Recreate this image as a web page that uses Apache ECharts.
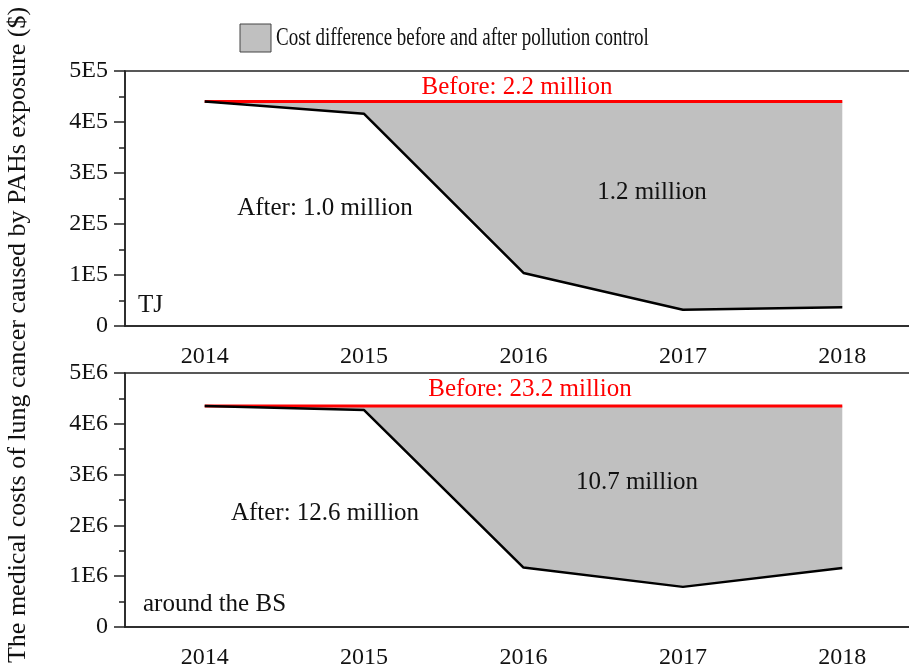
<!DOCTYPE html>
<html>
<head>
<meta charset="utf-8">
<script src="https://cdn.jsdelivr.net/npm/echarts@6/dist/echarts.min.js"></script>
<style>
  html, body { margin: 0; padding: 0; background: #fff; }
  #chart { width: 909px; height: 670px; }
</style>
</head>
<body>
<div id="chart"></div>
<script>
// Years on the horizontal axis
const years = ['2014', '2015', '2016', '2017', '2018'];

// TJ: medical costs per year ($)
const tjBefore = [440000, 440000, 440000, 440000, 440000];
const tjAfter = [440000, 416000, 104000, 32000, 37000];

// Around the BS: medical costs per year ($)
const bsBefore = [4350000, 4350000, 4350000, 4350000, 4350000];
const bsAfter = [4350000, 4270000, 1170000, 790000, 1160000];

// Tick labels of the two value axes
const tjTicks = ['0', '1E5', '2E5', '3E5', '4E5', '5E5'];
const bsTicks = ['0', '1E6', '2E6', '3E6', '4E6', '5E6'];

const FONT = '"Liberation Serif", "DejaVu Serif", serif';
const FILL = '#c0c0c0';

function diff(before, after) {
  return before.map((b, i) => b - after[i]);
}

function xAxisFor(gridIndex) {
  return {
    type: 'category',
    gridIndex: gridIndex,
    data: years,
    boundaryGap: true,
    axisLine: { lineStyle: { color: '#222', width: 1.5 } },
    axisTick: { alignWithLabel: true, length: 9, lineStyle: { color: '#222', width: 1.5 } },
    axisLabel: { color: '#111', fontFamily: FONT, fontSize: 24, margin: 19 },
    splitLine: { show: false }
  };
}

function yAxisFor(gridIndex, max, ticks) {
  return {
    type: 'value',
    gridIndex: gridIndex,
    min: 0,
    max: max,
    interval: max / 5,
    axisLine: { show: true, lineStyle: { color: '#222', width: 1.5 } },
    axisTick: { show: true, length: 11, lineStyle: { color: '#222', width: 1.5 } },
    minorTick: { show: true, splitNumber: 2, length: 6, lineStyle: { color: '#222', width: 1.5 } },
    axisLabel: {
      color: '#111', fontFamily: FONT, fontSize: 24, margin: 17,
      formatter: (v) => ticks[Math.round(v / (max / 5))]
    },
    splitLine: { show: false }
  };
}

function panelSeries(idx, before, after) {
  const key = 'panel' + idx;
  return [
    {
      name: 'After',
      type: 'line',
      xAxisIndex: idx,
      yAxisIndex: idx,
      stack: key,
      data: after,
      symbol: 'none',
      z: 4,
      lineStyle: { color: '#000', width: 2.5 },
      silent: true
    },
    {
      name: 'Cost difference before and after pollution control',
      type: 'line',
      xAxisIndex: idx,
      yAxisIndex: idx,
      stack: key,
      data: diff(before, after),
      symbol: 'none',
      z: 3,
      lineStyle: { color: '#ff0000', width: 3 },
      areaStyle: { color: FILL, opacity: 1 },
      silent: true
    }
  ];
}

function txt(x, y, text, opts, extra) {
  return Object.assign({
    type: 'text',
    x: x,
    y: y,
    z: 100,
    style: Object.assign({
      text: text,
      fill: '#111',
      font: '25px ' + FONT,
      textAlign: 'center',
      textVerticalAlign: 'middle'
    }, opts || {})
  }, extra || {});
}

const chart = echarts.init(document.getElementById('chart'));
chart.setOption({
  animation: false,
  backgroundColor: '#fff',
  grid: [
    { left: 125, top: 71, width: 797, height: 255, outerBoundsMode: 'none', show: true, borderColor: '#222', borderWidth: 1.5, backgroundColor: 'transparent' },
    { left: 125, top: 373, width: 797, height: 254, outerBoundsMode: 'none', show: true, borderColor: '#222', borderWidth: 1.5, backgroundColor: 'transparent' }
  ],
  xAxis: [xAxisFor(0), xAxisFor(1)],
  yAxis: [yAxisFor(0, 500000, tjTicks), yAxisFor(1, 5000000, bsTicks)],
  series: [].concat(panelSeries(0, tjBefore, tjAfter), panelSeries(1, bsBefore, bsAfter)),
  graphic: [
    // Legend swatch and caption (condensed serif)
    { type: 'rect', z: 100, shape: { x: 240, y: 24, width: 31, height: 28 }, style: { fill: FILL, stroke: '#444', lineWidth: 1 } },
    txt(276, 38, 'Cost difference before and after pollution control', { textAlign: 'left', font: '26px ' + FONT }, { scaleX: 0.73 }),
    // Shared vertical axis title
    txt(18, 335, 'The medical costs of lung cancer caused by PAHs exposure ($)', { font: '26px ' + FONT }, { rotation: Math.PI / 2 }),
    // TJ panel annotations
    txt(517, 87, 'Before: 2.2 million', { fill: '#ff0000' }),
    txt(325, 208, 'After: 1.0 million'),
    txt(652, 192, '1.2 million'),
    txt(138, 305, 'TJ', { textAlign: 'left' }),
    // BS panel annotations
    txt(530, 389, 'Before: 23.2 million', { fill: '#ff0000' }),
    txt(325, 513, 'After: 12.6 million'),
    txt(637, 482, '10.7 million'),
    txt(143, 604, 'around the BS', { textAlign: 'left' })
  ]
});
</script>
</body>
</html>
